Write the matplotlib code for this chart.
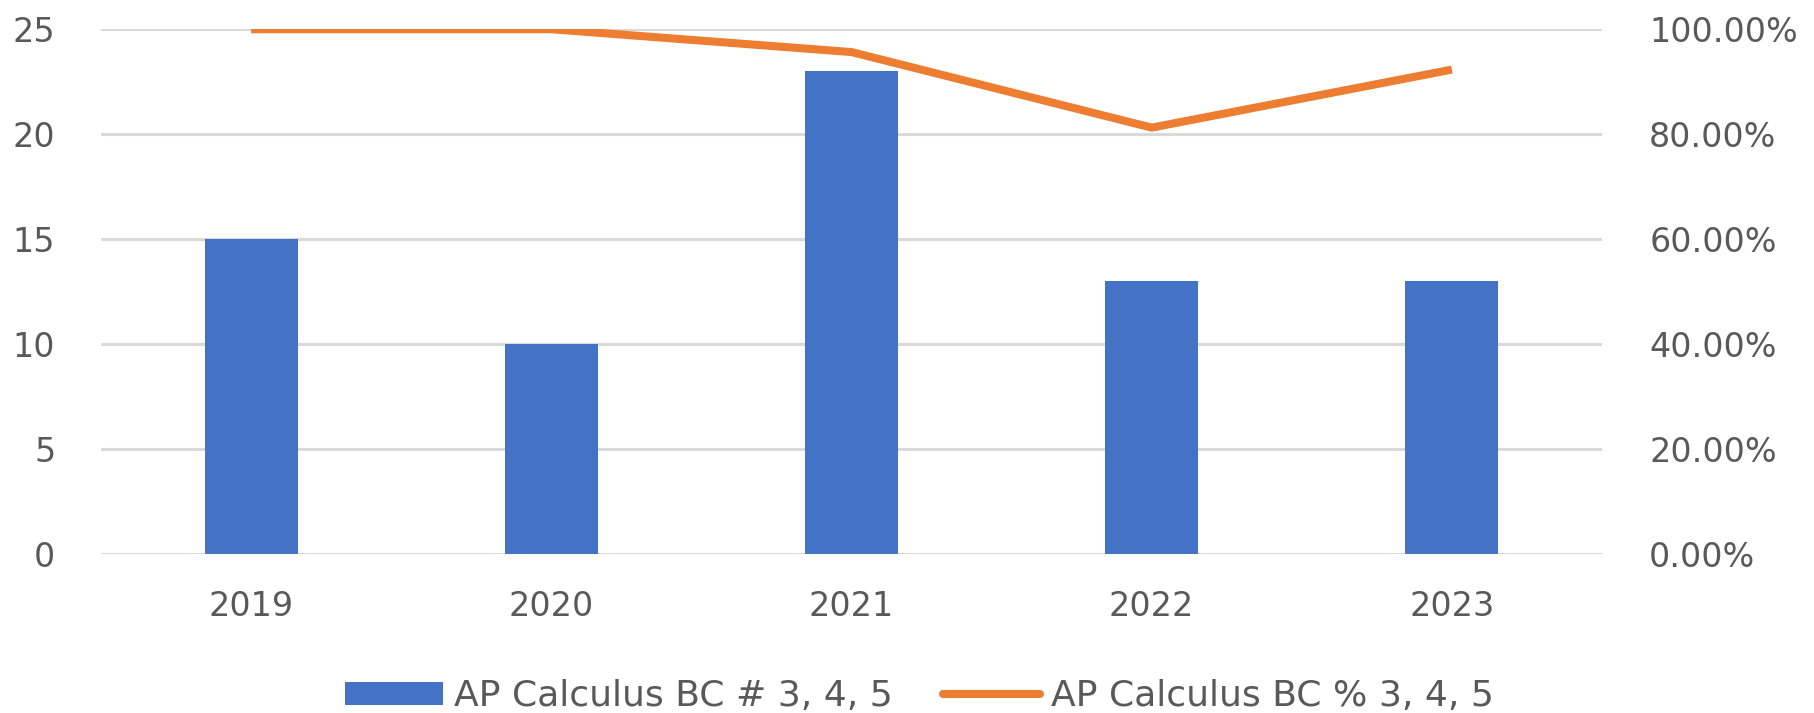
import numpy as np
import matplotlib.pyplot as plt
from matplotlib.ticker import FuncFormatter

# Data
years = ['2019', '2020', '2021', '2022', '2023']
count_345 = [15, 10, 23, 13, 13]
pct_345 = [1.0, 1.0, 0.9565, 0.8125, 0.9231]

bar_color = '#4472C4'
line_color = '#ED7D31'
text_color = '#595959'
grid_color = '#D9D9D9'

fig = plt.figure(figsize=(18.14, 7.13), dpi=100)
ax = fig.add_axes([0.0557, 0.223, 0.8274, 0.736])
ax2 = ax.twinx()

x = np.arange(len(years))

# Bars on left axis
ax.bar(x, count_345, width=0.31, color=bar_color, zorder=3,
       label='AP Calculus BC # 3, 4, 5')
ax.set_ylim(0, 25)
ax.set_yticks(np.arange(0, 26, 5))
ax.set_xlim(-0.5, len(years) - 0.5)
ax.set_xticks(x)
ax.set_xticklabels(years)
ax.yaxis.grid(True, color=grid_color, linewidth=2.2, zorder=0)
ax.set_axisbelow(True)

# Line on right axis
ax2.plot(x, pct_345, color=line_color, linewidth=5.8, solid_capstyle='butt',
         solid_joinstyle='round', label='AP Calculus BC % 3, 4, 5')
ax2.set_ylim(0, 1)
ax2.set_yticks(np.arange(0, 1.01, 0.2))
ax2.yaxis.set_major_formatter(FuncFormatter(lambda v, p: f'{v * 100:.2f}%'))

for a in (ax, ax2):
    for s in a.spines.values():
        s.set_visible(False)
    a.tick_params(length=0, labelsize=24, labelcolor=text_color)

ax.tick_params(axis='y', pad=33)
ax.tick_params(axis='x', pad=26)
ax2.tick_params(axis='y', pad=34)

# Legend
h1, l1 = ax.get_legend_handles_labels()
h2, l2 = ax2.get_legend_handles_labels()
leg = fig.legend(h1 + h2, l1 + l2, loc='center', bbox_to_anchor=(0.507, 0.024),
                 ncol=2, frameon=False, fontsize=26, handlelength=2.7,
                 handleheight=0.6, handletextpad=0.3, columnspacing=1.4)
for t in leg.get_texts():
    t.set_color(text_color)
leg.get_lines()[0].set_solid_capstyle('round')

plt.savefig('out.png', dpi=100)
plt.close()
